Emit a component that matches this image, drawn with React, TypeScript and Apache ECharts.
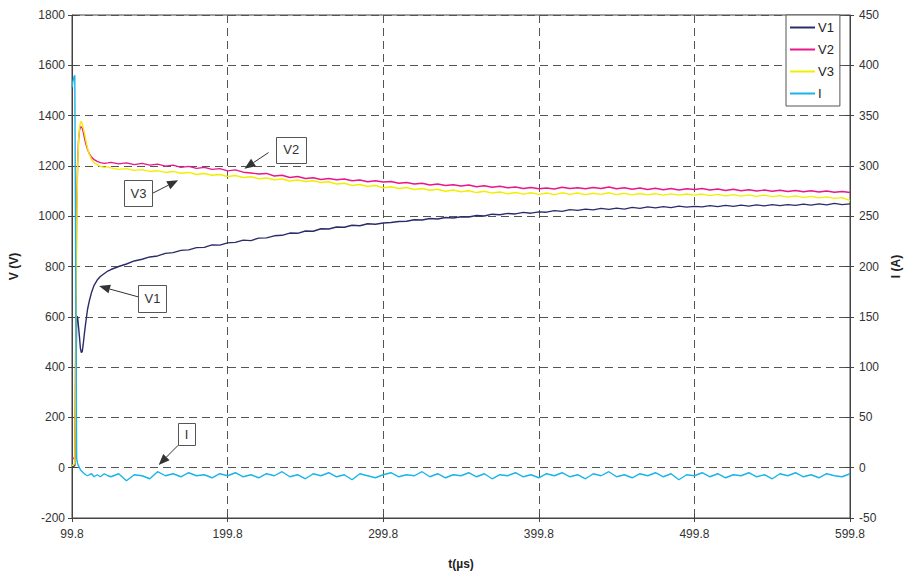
import React, { useEffect, useRef } from "react";
import * as echarts from "echarts";

const T0 = 99.8;
const seriesNames = ["V1", "V2", "V3", "I"];
const seriesColors = ["#2c2c6c", "#e8178a", "#f2ee00", "#1ab4e8"];

const timeUs = [
  99.8, 100.4, 101.0, 101.6, 102.2, 102.8, 103.4, 104.0, 104.6, 105.2, 105.8, 106.4,
  107.0, 107.8, 108.6, 109.8, 111.0, 112.4, 114.0, 116.0, 118.0, 120.6, 122.8,
  124.8, 129.8, 134.8, 139.8, 144.8, 149.8, 154.8, 159.8, 164.8, 169.8,
  174.8, 179.8, 184.8, 189.8, 194.8, 199.8, 204.8, 209.8, 214.8, 219.8,
  224.8, 229.8, 234.8, 239.8, 244.8, 249.8, 254.8, 259.8, 264.8, 269.8,
  274.8, 279.8, 284.8, 289.8, 294.8, 299.8, 304.8, 309.8, 314.8, 319.8,
  324.8, 329.8, 334.8, 339.8, 344.8, 349.8, 354.8, 359.8, 364.8, 369.8,
  374.8, 379.8, 384.8, 389.8, 394.8, 399.8, 404.8, 409.8, 414.8, 419.8,
  424.8, 429.8, 434.8, 439.8, 444.8, 449.8, 454.8, 459.8, 464.8, 469.8,
  474.8, 479.8, 484.8, 489.8, 494.8, 499.8, 504.8, 509.8, 514.8, 519.8,
  524.8, 529.8, 534.8, 539.8, 544.8, 549.8, 554.8, 559.8, 564.8, 569.8,
  574.8, 579.8, 584.8, 589.8, 594.8, 599.8,
];

const v1 = [
  5, 5, 6, 8, 250, 600, 600, 560, 520, 475, 458, 462,
  490, 535, 575, 630, 665, 698, 725, 746, 760, 772, 782,
  788, 800, 810, 822, 829, 838, 842, 852, 855, 864,
  866, 875, 876, 886, 885, 894, 896, 905, 903, 913,
  914, 922, 924, 933, 932, 941, 940, 950, 949, 957,
  956, 964, 962, 970, 968, 973, 975, 979, 980, 986,
  985, 991, 989, 995, 993, 998, 997, 1003, 1001, 1008,
  1006, 1011, 1009, 1015, 1012, 1017, 1016, 1022, 1019, 1026,
  1023, 1028, 1025, 1031, 1027, 1032, 1028, 1035, 1031, 1037,
  1033, 1038, 1034, 1040, 1036, 1039, 1037, 1042, 1038, 1043,
  1039, 1044, 1040, 1045, 1041, 1046, 1042, 1046, 1043, 1048,
  1044, 1049, 1045, 1051, 1046, 1049,
];

const v2 = [
  35, 38, 36, 40, 520, 1020, 1210, 1300, 1340, 1356, 1354, 1350,
  1335, 1312, 1290, 1265, 1248, 1234, 1225, 1218, 1213, 1210, 1212,
  1214, 1208, 1212, 1205, 1210, 1203, 1207, 1199, 1203, 1194,
  1198, 1190, 1194, 1186, 1189, 1180, 1184, 1175, 1172, 1168,
  1170, 1160, 1163, 1154, 1158, 1150, 1153, 1146, 1150, 1145,
  1148, 1141, 1144, 1137, 1141, 1136, 1138, 1131, 1134, 1128,
  1131, 1124, 1128, 1122, 1125, 1120, 1124, 1117, 1121, 1115,
  1119, 1113, 1116, 1110, 1114, 1109, 1112, 1108, 1115, 1110,
  1113, 1109, 1114, 1110, 1116, 1109, 1113, 1107, 1112, 1106,
  1111, 1105, 1110, 1104, 1109, 1106, 1110, 1104, 1108, 1102,
  1107, 1101, 1105, 1100, 1104, 1099, 1103, 1098, 1102, 1097,
  1101, 1096, 1100, 1095, 1098, 1094,
];

const v3 = [
  10, 10, 12, 20, 420, 960, 1190, 1300, 1350, 1372, 1377, 1368,
  1350, 1330, 1305, 1270, 1245, 1225, 1212, 1205, 1198, 1194, 1196,
  1192, 1186, 1189, 1182, 1185, 1178, 1181, 1174, 1178, 1171,
  1174, 1166, 1170, 1163, 1166, 1158, 1162, 1154, 1157, 1149,
  1152, 1145, 1148, 1140, 1144, 1138, 1141, 1134, 1137, 1128,
  1131, 1122, 1126, 1118, 1122, 1113, 1117, 1110, 1114, 1106,
  1110, 1103, 1107, 1099, 1104, 1097, 1101, 1094, 1099, 1092,
  1096, 1089, 1094, 1088, 1093, 1087, 1092, 1086, 1093, 1087,
  1092, 1086, 1091, 1087, 1093, 1086, 1091, 1085, 1090, 1085,
  1090, 1084, 1089, 1084, 1088, 1084, 1088, 1082, 1087, 1081,
  1086, 1080, 1085, 1079, 1084, 1078, 1082, 1076, 1081, 1075,
  1079, 1073, 1077, 1071, 1074, 1062,
];

const currentA = [
  378, 384, 388, 390, 190, 9, 4, 2, 0, -2, -3, -4,
  -5, -6, -7, -8, -7, -6, -9, -7, -9, -6, -8,
  -9, -6, -13, -7, -8, -11, -4, -8, -6, -9,
  -5, -8, -7, -10, -6, -8, -5, -9, -7, -10,
  -6, -8, -4, -9, -7, -11, -6, -8, -5, -9,
  -7, -12, -6, -8, -10, -7, -5, -9, -7, -8,
  -4, -9, -6, -10, -7, -8, -5, -9, -6, -11,
  -7, -8, -5, -9, -7, -10, -6, -8, -5, -9,
  -7, -11, -6, -8, -4, -9, -7, -10, -6, -8,
  -5, -9, -6, -12, -7, -8, -5, -9, -6, -10,
  -7, -8, -5, -9, -7, -11, -6, -8, -5, -9,
  -7, -10, -6, -8, -9, -6,
];

// Callout annotations, anchored in data units (t in µs, V on left axis)
const callouts = [
  { label: "V2", box: [240.7, 1265], w: 30, h: 26, from: [226.1, 1253], tip: [210.6, 1189] },
  { label: "V3", box: [142.5, 1091], w: 28, h: 26, from: [151.5, 1091], tip: [168.0, 1143] },
  { label: "V1", box: [151.5, 673], w: 28, h: 27, from: [142.5, 679], tip: [117.2, 722] },
  { label: "I", box: [173.5, 133], w: 17, h: 22, from: [168.0, 89], tip: [155.5, 11] },
];

const FONT = "Liberation Sans, Arial, sans-serif";

export default function App() {
  const ref = useRef<HTMLDivElement>(null);

  useEffect(() => {
    if (!ref.current) return;
    const chart = echarts.init(ref.current, undefined, { renderer: "svg" });
    const valuesList = [v1, v2, v3, currentA];

    const labelStyle = { color: "#333", fontSize: 12, fontFamily: FONT };
    const nameStyle = { color: "#222", fontSize: 12, fontWeight: "bold", fontFamily: FONT };
    const axisLine = { show: true, onZero: false, lineStyle: { color: "#444", width: 1 } };
    const plain = (v: number) => String(v);

    chart.setOption({
      animation: false,
      backgroundColor: "#fff",
      textStyle: { fontFamily: FONT },
      grid: { left: 72, right: 54, top: 15, bottom: 55, show: true, borderColor: "#444", borderWidth: 1, backgroundColor: "transparent" },
      legend: {
        orient: "vertical",
        left: 786,
        top: 15,
        data: seriesNames,
        icon: "rect",
        backgroundColor: "#fff",
        borderColor: "#555",
        borderWidth: 1,
        padding: [5, 6, 5, 4],
        itemGap: 7,
        itemWidth: 25,
        itemHeight: 2,
        textStyle: { color: "#222", fontSize: 13, fontFamily: FONT, lineHeight: 15, padding: [0, 0, 0, -2] },
      },
      xAxis: [
        {
          type: "value",
          min: 0,
          max: 500,
          interval: 100,
          name: "t(µs)",
          nameLocation: "middle",
          nameGap: 40,
          nameTextStyle: nameStyle,
          axisLine,
          axisTick: { show: true, length: 4, lineStyle: { color: "#444" } },
          axisLabel: { ...labelStyle, margin: 10, formatter: (v: number) => (v + T0).toFixed(1) },
          splitLine: { show: true, lineStyle: { color: "#555", type: [8, 5], width: 1 } },
        },
        {
          type: "value",
          min: 0,
          max: 500,
          interval: 100,
          position: "bottom",
          axisLine: { show: false, onZero: false },
          axisTick: { show: true, inside: true, length: 4, lineStyle: { color: "#444" } },
          axisLabel: { show: false },
          splitLine: { show: false },
        },
      ],
      yAxis: [
        {
          type: "value",
          min: -200,
          max: 1800,
          interval: 200,
          position: "left",
          name: "V (V)",
          nameLocation: "middle",
          nameGap: 52,
          nameRotate: 90,
          nameTextStyle: nameStyle,
          axisLine,
          axisTick: { show: true, length: 4, lineStyle: { color: "#444" } },
          axisLabel: { ...labelStyle, margin: 7, formatter: plain },
          splitLine: { show: true, lineStyle: { color: "#555", type: [8, 5], width: 1 } },
        },
        {
          type: "value",
          min: -50,
          max: 450,
          interval: 50,
          position: "right",
          name: "I (A)",
          nameLocation: "middle",
          nameGap: 40,
          nameRotate: 90,
          nameTextStyle: nameStyle,
          axisLine,
          axisTick: { show: true, length: 4, lineStyle: { color: "#444" } },
          axisLabel: { ...labelStyle, margin: 9, formatter: plain },
          splitLine: { show: false },
        },
        {
          type: "value",
          min: -200,
          max: 1800,
          interval: 200,
          position: "left",
          axisLine: { show: false, onZero: false },
          axisTick: { show: true, inside: true, length: 5, lineStyle: { color: "#444" } },
          axisLabel: { show: false },
          splitLine: { show: false },
        },
        {
          type: "value",
          min: -50,
          max: 450,
          interval: 50,
          position: "right",
          axisLine: { show: false, onZero: false },
          axisTick: { show: true, inside: true, length: 5, lineStyle: { color: "#444" } },
          axisLabel: { show: false },
          splitLine: { show: false },
        },
      ],
      series: seriesNames.map((name, k) => ({
        name,
        type: "line",
        yAxisIndex: k === 3 ? 1 : 0,
        symbol: "none",
        smooth: false,
        z: 2 + k,
        color: seriesColors[k],
        lineStyle: { color: seriesColors[k], width: 1.4 },
        data: timeUs.map((t, i) => [+(t - T0).toFixed(2), valuesList[k][i]]),
      })),
    });

    const toPx = (p: number[]) =>
      chart.convertToPixel({ xAxisIndex: 0, yAxisIndex: 0 }, [p[0] - T0, p[1]]) as number[];

    const graphics: any[] = [];
    callouts.forEach((c) => {
      const b = toPx(c.box);
      const s = toPx(c.from);
      const tp = toPx(c.tip);
      const dx = tp[0] - s[0];
      const dy = tp[1] - s[1];
      const len = Math.sqrt(dx * dx + dy * dy);
      const ux = dx / len;
      const uy = dy / len;
      const headL = 11;
      const headW = 4.5;
      const bx = tp[0] - ux * headL;
      const by = tp[1] - uy * headL;
      graphics.push({
        type: "line",
        z: 100,
        shape: { x1: s[0], y1: s[1], x2: bx, y2: by },
        style: { stroke: "#333", lineWidth: 1 },
      });
      graphics.push({
        type: "polygon",
        z: 100,
        shape: {
          points: [
            [tp[0], tp[1]],
            [bx - uy * headW, by + ux * headW],
            [bx + uy * headW, by - ux * headW],
          ],
        },
        style: { fill: "#333" },
      });
      graphics.push({
        type: "rect",
        z: 100,
        shape: { x: Math.round(b[0] - c.w / 2) + 0.5, y: Math.round(b[1] - c.h / 2) + 0.5, width: c.w, height: c.h },
        style: { fill: "#fff", stroke: "#555", lineWidth: 1 },
      });
      graphics.push({
        type: "text",
        z: 101,
        x: b[0],
        y: b[1],
        style: {
          text: c.label,
          fill: "#333",
          fontSize: 13,
          fontFamily: FONT,
          align: "center",
          verticalAlign: "middle",
        },
      });
    });
    chart.setOption({ graphic: graphics });

    return () => chart.dispose();
  }, []);

  return (
    <div
      ref={ref}
      style={{ position: "fixed", left: 0, top: 0, width: 910, height: 575 }}
    />
  );
}
